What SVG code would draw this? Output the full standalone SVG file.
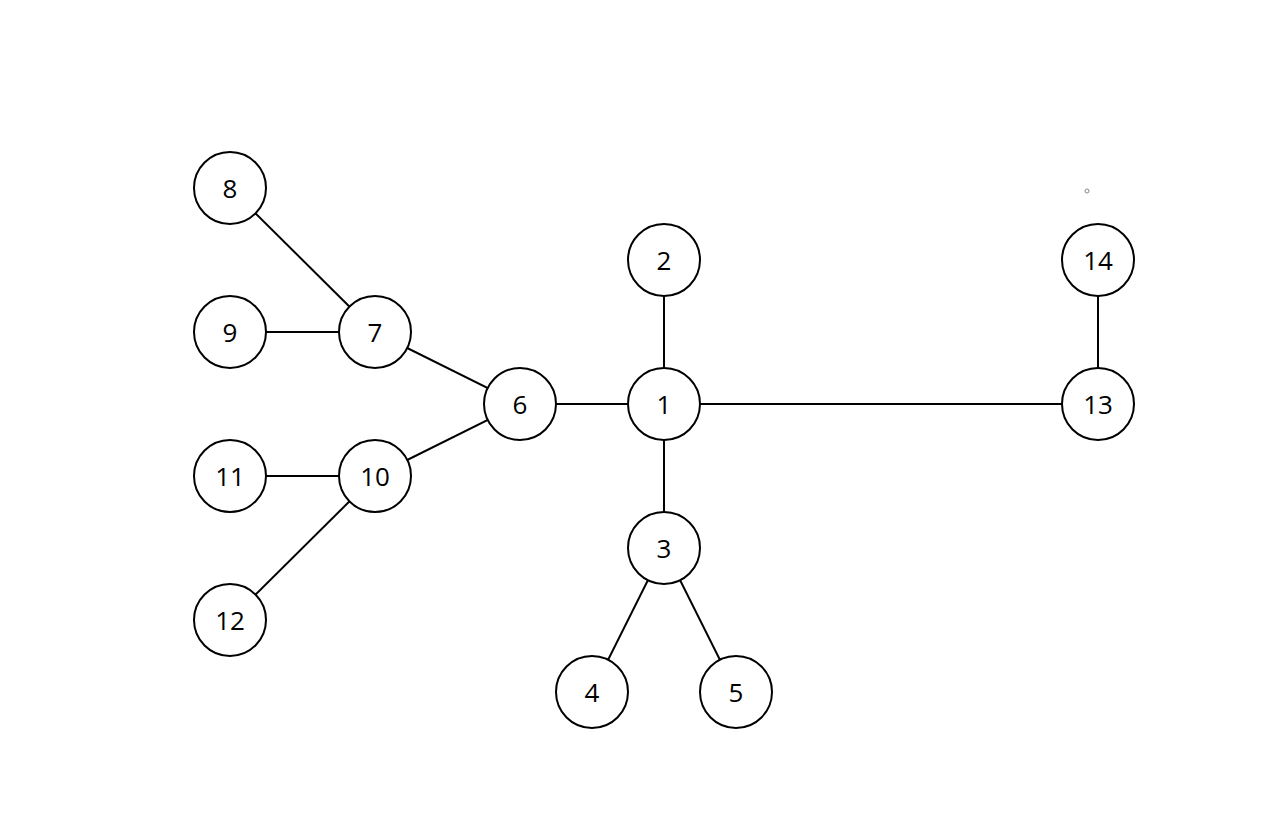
<svg xmlns="http://www.w3.org/2000/svg" width="1280" height="816" viewBox="0 0 1280 816">
<style>
.n circle{fill:#fff;stroke:#000;stroke-width:2}
.n text{font-family:"Open Sans","Noto Sans",sans-serif;font-size:26px;fill:#000;text-anchor:middle;dominant-baseline:central}
#edges line{stroke:#000;stroke-width:2}
</style>
<rect width="1280" height="816" fill="#fff"/>
<g id="edges">
<line x1="664" y1="404" x2="664" y2="260"/>
<line x1="664" y1="404" x2="664" y2="548"/>
<line x1="664" y1="548" x2="592" y2="692"/>
<line x1="664" y1="548" x2="736" y2="692"/>
<line x1="664" y1="404" x2="520" y2="404"/>
<line x1="664" y1="404" x2="1098" y2="404"/>
<line x1="1098" y1="404" x2="1098" y2="260"/>
<line x1="520" y1="404" x2="375" y2="332"/>
<line x1="520" y1="404" x2="375" y2="476"/>
<line x1="375" y1="332" x2="230" y2="188"/>
<line x1="375" y1="332" x2="230" y2="332"/>
<line x1="375" y1="476" x2="230" y2="476"/>
<line x1="375" y1="476" x2="230" y2="620"/>
</g>
<g id="node1" class="n"><circle cx="664" cy="404" r="36"/><text x="664" y="404">1</text></g>
<g id="node2" class="n"><circle cx="664" cy="260" r="36"/><text x="664" y="260">2</text></g>
<g id="node3" class="n"><circle cx="664" cy="548" r="36"/><text x="664" y="548">3</text></g>
<g id="node4" class="n"><circle cx="592" cy="692" r="36"/><text x="592" y="692">4</text></g>
<g id="node5" class="n"><circle cx="736" cy="692" r="36"/><text x="736" y="692">5</text></g>
<g id="node6" class="n"><circle cx="520" cy="404" r="36"/><text x="520" y="404">6</text></g>
<g id="node7" class="n"><circle cx="375" cy="332" r="36"/><text x="375" y="332">7</text></g>
<g id="node8" class="n"><circle cx="230" cy="188" r="36"/><text x="230" y="188">8</text></g>
<g id="node9" class="n"><circle cx="230" cy="332" r="36"/><text x="230" y="332">9</text></g>
<g id="node10" class="n"><circle cx="375" cy="476" r="36"/><text x="375" y="476">10</text></g>
<g id="node11" class="n"><circle cx="230" cy="476" r="36"/><text x="230" y="476">11</text></g>
<g id="node12" class="n"><circle cx="230" cy="620" r="36"/><text x="230" y="620">12</text></g>
<g id="node13" class="n"><circle cx="1098" cy="404" r="36"/><text x="1098" y="404">13</text></g>
<g id="node14" class="n"><circle cx="1098" cy="260" r="36"/><text x="1098" y="260">14</text></g>
<circle cx="1087" cy="191" r="2" fill="none" stroke="#888" stroke-width="1"/>
</svg>
